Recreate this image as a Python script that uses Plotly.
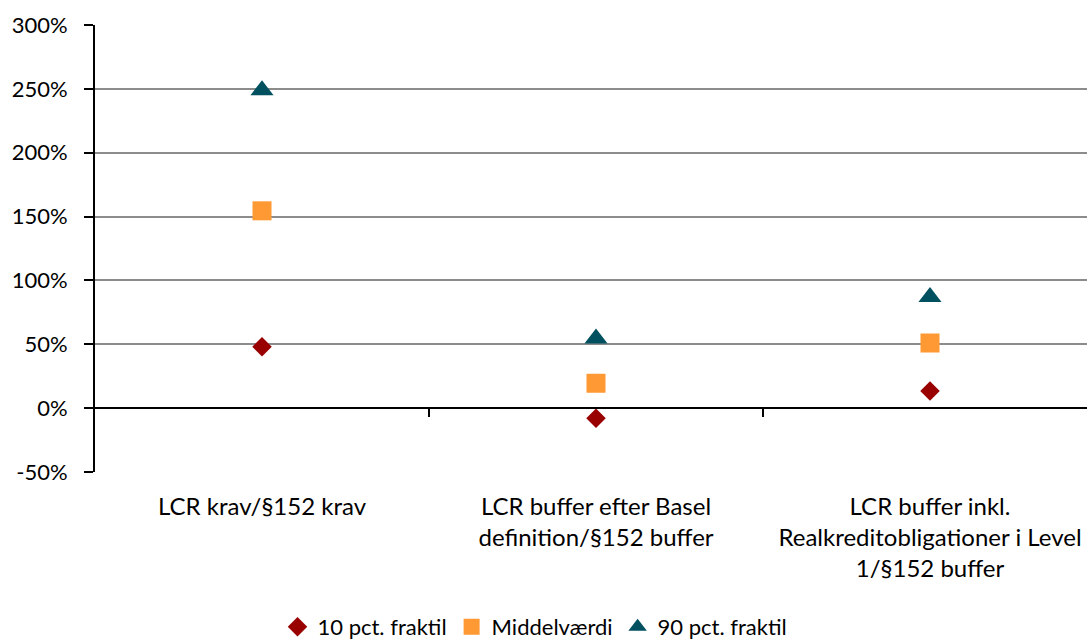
import plotly.graph_objects as go

categories = [
    "LCR krav/§152 krav",
    "LCR buffer efter Basel<br>definition/§152 buffer",
    "LCR buffer inkl.<br>Realkreditobligationer i Level<br>1/§152 buffer",
]
p10 = [0.48, -0.08, 0.135]
mean = [1.545, 0.195, 0.51]
p90 = [2.49, 0.545, 0.87]

y_tick_vals = [-0.5, 0, 0.5, 1.0, 1.5, 2.0, 2.5, 3.0]
y_tick_text = ["-50%", "0%", "50%", "100%", "150%", "200%", "250%", "300%"]

FONT = "Lato, Carlito, Calibri, sans-serif"
x = [0, 1, 2]

fig = go.Figure()
fig.add_trace(go.Scatter(x=x, y=p10, mode="markers", name="10 pct. fraktil",
                         marker=dict(symbol="diamond", size=15, color="#990000")))
fig.add_trace(go.Scatter(x=x, y=mean, mode="markers", name="Middelværdi",
                         marker=dict(symbol="square", size=19, color="#FF9933")))
fig.add_trace(go.Scatter(x=x, y=p90, mode="markers", name="90 pct. fraktil",
                         marker=dict(symbol="triangle-up", size=20, color="#005060")))
# invisible trace on overlay axis for category-boundary ticks at y=0
fig.add_trace(go.Scatter(x=[None], y=[None], xaxis="x2", showlegend=False, hoverinfo="skip"))

xr = [-0.5, 2.5 - 10 / 334]

fig.update_layout(
    width=1087, height=641,
    margin=dict(l=95, r=0, t=25, b=169, autoexpand=False),
    paper_bgcolor="white", plot_bgcolor="white",
    font=dict(family=FONT, size=22, color="black"),
    showlegend=True,
    legend=dict(orientation="h", xref="container", x=535 / 1087, xanchor="center",
                yref="container", y=(641 - 627) / 641, yanchor="middle",
                font=dict(size=22), itemwidth=30, tracegroupgap=0),
    xaxis=dict(range=xr, tickvals=x, ticktext=categories, showgrid=False, zeroline=False,
               showline=False, ticks="outside", ticklen=13, tickcolor="rgba(0,0,0,0)",
               tickfont=dict(size=24), automargin=False),
    xaxis2=dict(range=xr, overlaying="x", anchor="free", position=1 / 7, side="bottom",
                showline=True, linecolor="black", linewidth=2, ticks="outside",
                tickvals=[0.5, 1.5], ticklen=8, tickwidth=2, tickcolor="black",
                showticklabels=False, showgrid=False, zeroline=False, automargin=False),
    yaxis=dict(range=[-0.5, 3.0], tickvals=y_tick_vals, ticktext=y_tick_text,
               showgrid=True, gridcolor="#8c8c8c", gridwidth=1.5,
               zeroline=False, showline=True, linecolor="black", linewidth=2,
               ticks="outside", ticklen=9, tickwidth=2, tickcolor="black",
               tickfont=dict(size=22), ticklabelstandoff=12, automargin=False),
)

fig.write_html("out.html")
